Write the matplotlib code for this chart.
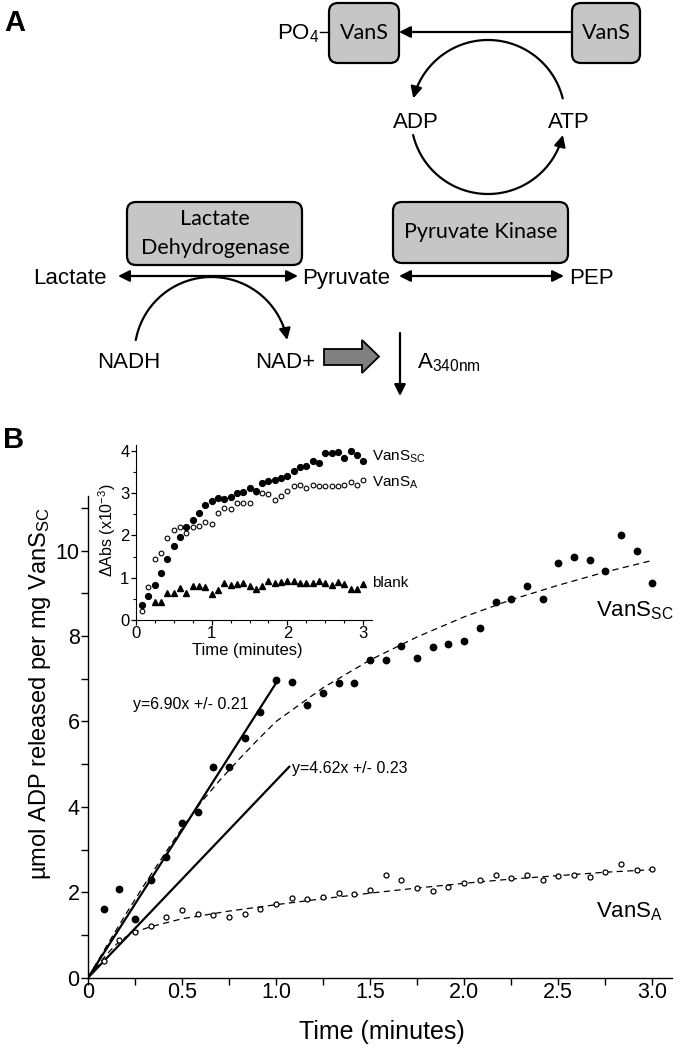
import numpy as np
import matplotlib
matplotlib.use("Agg")
import matplotlib.pyplot as plt
from matplotlib.patches import FancyBboxPatch, FancyArrowPatch, Polygon
from matplotlib.path import Path

plt.rcParams['font.family'] = ['Liberation Sans', 'DejaVu Sans']
plt.rcParams['mathtext.fontset'] = 'custom'
plt.rcParams['mathtext.rm'] = 'Liberation Sans'
plt.rcParams['mathtext.it'] = 'Liberation Sans:italic'
plt.rcParams['mathtext.bf'] = 'Liberation Sans:bold'

# ---------------- data (panel B, main) ----------------
time_main = [k / 12 for k in range(1, 37)]
vans_sc = [1.60, 2.08, 1.37, 2.28, 2.83, 3.63, 3.87, 4.94, 4.94, 5.61, 6.22, 6.96,
           6.93, 6.39, 6.67, 6.89, 6.89, 7.44, 7.43, 7.77, 7.48, 7.75, 7.81, 7.89,
           8.19, 8.79, 8.86, 9.17, 8.86, 9.70, 9.86, 9.79, 9.53, 10.36, 10.00, 9.24]
vans_a = [0.38, 0.88, 1.08, 1.22, 1.41, 1.59, 1.49, 1.46, 1.41, 1.49, 1.62, 1.72,
          1.87, 1.84, 1.89, 1.98, 1.97, 2.06, 2.41, 2.28, 2.10, 2.03, 2.12, 2.21,
          2.29, 2.41, 2.34, 2.41, 2.29, 2.37, 2.40, 2.35, 2.47, 2.66, 2.52, 2.54]

# dashed fitted curves
curve_sc_x = [0, 0.1, 0.2, 0.3, 0.4, 0.5, 0.6, 0.7, 0.8, 0.9, 1.0, 1.25, 1.5, 1.75,
              2.0, 2.25, 2.5, 2.75, 3.0]
curve_sc_y = [0, 0.75, 1.48, 2.18, 2.85, 3.50, 4.10, 4.62, 5.10, 5.56, 6.00, 6.79,
              7.44, 7.98, 8.45, 8.85, 9.19, 9.50, 9.77]
curve_a_x = [0, 0.05, 0.1, 0.15, 0.2, 0.25, 0.33, 0.5, 0.75, 1.0, 1.25, 1.5, 1.75,
             2.0, 2.25, 2.5, 2.75, 3.0]
curve_a_y = [0, 0.28, 0.55, 0.78, 0.95, 1.07, 1.19, 1.38, 1.56, 1.71, 1.85, 1.98,
             2.10, 2.21, 2.31, 2.39, 2.47, 2.53]

# linear initial-rate fits
line_sc_x = [0, 1.0]
line_sc_y = [0, 6.90]
line_a_x = [0, 1.07]
line_a_y = [0, 4.94]

xtick_vals = [0, 0.5, 1.0, 1.5, 2.0, 2.5, 3.0]
xtick_labels = ["0", "0.5", "1.0", "1.5", "2.0", "2.5", "3.0"]
ytick_vals = [0, 2, 4, 6, 8, 10]

# ---------------- data (inset) ----------------
time_inset = [k / 12 for k in range(1, 37)]
inset_sc = [0.36, 0.57, 0.83, 1.12, 1.45, 1.75, 1.96, 2.20, 2.36, 2.54, 2.71, 2.82,
            2.89, 2.87, 2.90, 3.00, 3.03, 3.12, 3.06, 3.24, 3.29, 3.31, 3.35, 3.41,
            3.52, 3.63, 3.65, 3.75, 3.72, 3.94, 3.94, 3.98, 3.83, 4.00, 3.91, 3.76]
inset_a = [0.22, 0.77, 1.45, 1.58, 1.93, 2.13, 2.19, 2.07, 2.20, 2.22, 2.33, 2.28,
           2.53, 2.64, 2.63, 2.76, 2.76, 2.76, 3.03, 3.01, 2.97, 2.84, 2.94, 3.06,
           3.16, 3.19, 3.13, 3.19, 3.17, 3.17, 3.16, 3.17, 3.20, 3.27, 3.20, 3.31]
time_blank = [k / 12 for k in range(3, 37)]
inset_blank = [0.42, 0.42, 0.63, 0.63, 0.75, 0.65, 0.81, 0.80, 0.77, 0.62, 0.71, 0.87,
               0.83, 0.85, 0.87, 0.80, 0.73, 0.81, 0.93, 0.88, 0.91, 0.92, 0.93, 0.87,
               0.87, 0.87, 0.93, 0.88, 0.83, 0.90, 0.84, 0.74, 0.74, 0.84]

W, H = 685, 1049
fig = plt.figure(figsize=(W / 100, H / 100), dpi=100)

# ---------------- panel A (schematic), pixel coordinates ----------------
ax0 = fig.add_axes([0, 0, 1, 1], zorder=-1)
ax0.set_xlim(0, W)
ax0.set_ylim(H, 0)
ax0.axis('off')

BOXFONT = dict(family=['Lato', 'DejaVu Sans'], fontsize=15.5)
LBL = dict(fontsize=16)
LW = 1.6
GRAY = '#c6c6c6'


def box(x0, y0, x1, y1):
    ax0.add_patch(FancyBboxPatch((x0, y0), x1 - x0, y1 - y0,
                                 boxstyle='round,pad=0,rounding_size=9',
                                 fc=GRAY, ec='black', lw=LW))


def arrow(p0, p1, style='-|>'):
    ax0.add_patch(FancyArrowPatch(p0, p1, arrowstyle=style, mutation_scale=17,
                                  lw=LW, color='black', shrinkA=0, shrinkB=0))


def arc_arrow(cx, cy, r, t1, t2):
    th = np.radians(np.linspace(t1, t2, 80))
    verts = np.column_stack([cx + r * np.cos(th), cy - r * np.sin(th)])
    ax0.add_patch(FancyArrowPatch(path=Path(verts), arrowstyle='-|>', mutation_scale=17,
                                  lw=LW, color='black'))


ax0.text(4, 31, 'A', fontsize=21, fontweight='bold', ha='left', va='baseline')
ax0.text(3, 448, 'B', fontsize=21, fontweight='bold', ha='left', va='baseline')

box(329, 3, 399, 63)
box(572, 3, 640, 63)
ax0.text(364, 33, 'VanS', ha='center', va='center', **BOXFONT)
ax0.text(606, 33, 'VanS', ha='center', va='center', **BOXFONT)
ax0.text(319, 39, r'PO$_4$', ha='right', va='baseline', **LBL)
ax0.plot([320, 329], [32, 32], color='black', lw=1.0)
arrow((572, 32), (399, 32))

arc_arrow(488, 117, 77, 14, 166)
arc_arrow(488, 117, 77, 193.5, 346.5)
ax0.text(416, 128, 'ADP', ha='center', va='baseline', **LBL)
ax0.text(569, 128, 'ATP', ha='center', va='baseline', **LBL)

box(127, 202, 302, 265)
box(393, 202, 568, 263)
ax0.text(215, 219, 'Lactate', ha='center', va='center', **BOXFONT)
ax0.text(215, 248, 'Dehydrogenase', ha='center', va='center', **BOXFONT)
ax0.text(481, 232, 'Pyruvate Kinase', ha='center', va='center', **BOXFONT)

ax0.text(107, 284, 'Lactate', ha='right', va='baseline', **LBL)
ax0.text(302, 284, 'Pyruvate', ha='left', va='baseline', **LBL)
ax0.text(569, 284, 'PEP', ha='left', va='baseline', **LBL)
arrow((118, 276), (298, 276), '<|-|>')
arrow((399, 276), (564, 276), '<|-|>')

arc_arrow(211.5, 354, 77, 169.5, 10.5)
ax0.text(129, 368, 'NADH', ha='center', va='baseline', **LBL)
ax0.text(285, 368, 'NAD+', ha='center', va='baseline', **LBL)
ax0.add_patch(Polygon([(324, 349), (362, 349), (362, 340), (379, 356.5),
                       (362, 373), (362, 365), (324, 365)], closed=True,
                      fc='#808080', ec='black', lw=1.3))
arrow((400, 333), (400, 396))
ax0.text(417, 368, r'A$_{\mathregular{340nm}}$', ha='left', va='baseline', **LBL)

# ---------------- panel B main axes ----------------
ax = fig.add_axes([88 / W, 1 - 977.7 / H, 584 / W, (977.7 - 496) / H])
ax.set_xlim(0, 3.105)
ax.set_ylim(0, 11.28)
for s in ['top', 'right']:
    ax.spines[s].set_visible(False)
for s in ['left', 'bottom']:
    ax.spines[s].set_linewidth(1.0)

ax.plot(curve_sc_x, curve_sc_y, ls=(0, (5, 3.5)), color='black', lw=0.9, zorder=2)
ax.plot(curve_a_x, curve_a_y, ls=(0, (5, 3.5)), color='black', lw=0.9, zorder=2)
ax.plot(line_sc_x, line_sc_y, color='black', lw=1.6, zorder=3)
ax.plot(line_a_x, line_a_y, color='black', lw=1.6, zorder=3)
ax.plot(time_main, vans_sc, 'o', ms=4.6, color='black', zorder=4, clip_on=False)
ax.plot(time_main, vans_a, 'o', ms=3.6, mfc='white', mec='black', mew=0.9, zorder=4,
        clip_on=False)

ax.set_xticks(xtick_vals)
ax.set_xticklabels(xtick_labels)
ax.set_xticks(np.arange(0.25, 3.1, 0.5), minor=True)
ax.set_yticks(ytick_vals)
ax.set_yticks([1, 3, 5, 7, 9, 11], minor=True)
ax.tick_params(axis='both', which='major', direction='out', length=5, width=1.0,
               labelsize=15.5)
ax.tick_params(axis='both', which='minor', direction='out', length=5, width=1.0)
ax.tick_params(axis='x', which='major', pad=-2)
ax.tick_params(axis='y', which='major', pad=1)

ax.text(0.24, 6.40, 'y=6.90x +/- 0.21', fontsize=11.5, ha='left', va='center')
ax.text(1.085, 4.90, 'y=4.62x +/- 0.23', fontsize=11.5, ha='left', va='center')
ax.text(2.70, 8.60, r'VanS$_{\mathregular{SC}}$', fontsize=16, ha='left', va='center')
ax.text(2.70, 1.55, r'VanS$_{\mathregular{A}}$', fontsize=16, ha='left', va='center')

fig.text(382 / W, 1 - 1032 / H, 'Time (minutes)', fontsize=18, ha='center', va='center')
fig.text(40 / W, 1 - 694 / H, r'µmol ADP released per mg VanS$_{\mathregular{SC}}$',
         fontsize=17, rotation=90, ha='center', va='center')

# ---------------- inset ----------------
axi = fig.add_axes([135.7 / W, 1 - 620 / H, 236 / W, 175 / H])
axi.set_facecolor('none')
axi.set_xlim(0, 3.11)
axi.set_ylim(0, 4.14)
for s in ['top', 'right']:
    axi.spines[s].set_visible(False)
axi.plot(time_inset, inset_a, 'o', ms=3.4, mfc='white', mec='black', mew=0.8,
         clip_on=False, zorder=3)
axi.plot(time_inset, inset_sc, 'o', ms=4.2, color='black', clip_on=False, zorder=4)
axi.plot(time_blank, inset_blank, '^', ms=4.2, color='black', clip_on=False, zorder=3)
axi.set_xticks([0, 1, 2, 3])
axi.set_xticks(np.arange(0.25, 3.01, 0.25), minor=True)
axi.set_yticks([0, 1, 2, 3, 4])
axi.set_yticks(np.arange(0.5, 4.01, 1.0), minor=True)
axi.tick_params(axis='both', which='major', direction='out', length=3.5, width=0.9,
                labelsize=12, pad=1)
axi.tick_params(axis='both', which='minor', direction='out', length=2, width=0.8)
axi.text(3.11, 3.87, r'VanS$_{\mathregular{SC}}$', fontsize=11, ha='left', va='center')
axi.text(3.11, 3.25, r'VanS$_{\mathregular{A}}$', fontsize=11, ha='left', va='center')
axi.text(3.11, 0.87, 'blank', fontsize=11, ha='left', va='center')
fig.text(247 / W, 1 - 650 / H, 'Time (minutes)', fontsize=12, ha='center', va='center')
fig.text(107 / W, 1 - 530 / H, r'ΔAbs (x10$^{\mathregular{-3}}$)', fontsize=11.5,
         rotation=90, ha='center', va='center')

fig.savefig('out.png', dpi=100)
